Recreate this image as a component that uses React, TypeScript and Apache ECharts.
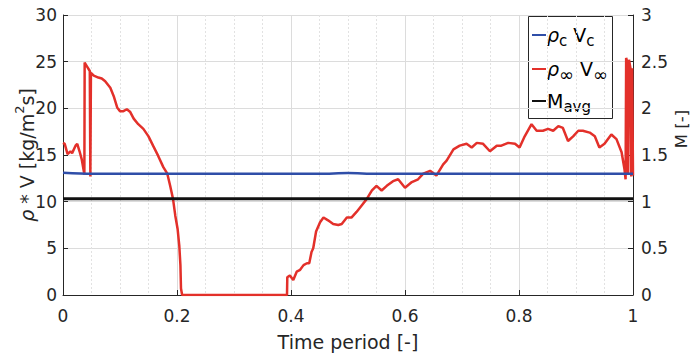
import React, { useEffect, useRef } from "react";
import * as echarts from "echarts";

// Time period values (x) and rho_inf * V_inf values (y) for the red curve
const redT = [
  0, 0.003, 0.008, 0.013, 0.016, 0.022, 0.025, 0.029, 0.033, 0.037, 0.0375,
  0.038, 0.042, 0.047, 0.048, 0.049, 0.054, 0.062, 0.068, 0.074, 0.083, 0.089,
  0.095, 0.1, 0.106, 0.112, 0.118, 0.124, 0.132, 0.141, 0.15, 0.158, 0.167,
  0.176, 0.183, 0.188, 0.193, 0.197, 0.201, 0.204, 0.206, 0.207, 0.209, 0.3,
  0.393, 0.3935, 0.398, 0.404, 0.41, 0.416, 0.422, 0.428, 0.432, 0.436, 0.439,
  0.444, 0.451, 0.457, 0.465, 0.474, 0.483, 0.489, 0.498, 0.506, 0.515, 0.524,
  0.533, 0.542, 0.55, 0.559, 0.568, 0.579, 0.588, 0.6, 0.612, 0.623, 0.632,
  0.644, 0.655, 0.667, 0.673, 0.685, 0.696, 0.708, 0.717, 0.726, 0.737, 0.749,
  0.761, 0.769, 0.781, 0.793, 0.801, 0.81, 0.822, 0.831, 0.842, 0.851, 0.86,
  0.869, 0.877, 0.886, 0.895, 0.904, 0.912, 0.924, 0.933, 0.941, 0.95, 0.962,
  0.971, 0.98, 0.985, 0.987, 0.988, 0.991, 0.9915, 0.993, 0.996, 0.997, 0.9985,
  1.0,
];
const redV = [
  16.3, 16.2, 15.1, 15.4, 15.2, 16.0, 16.2, 15.4, 14.5, 13.1, 12.9,
  24.9, 24.5, 24.0, 12.7, 23.8, 23.5, 23.3, 23.2, 22.9, 22.2, 21.3,
  20.1, 19.7, 19.7, 19.9, 19.6, 18.9, 18.3, 17.8, 17.0, 16.0, 14.9,
  13.7, 13.0, 11.7, 10.3, 8.5, 7.1, 5.3, 3.2, 0.7, 0, 0,
  0, 1.9, 2.1, 1.6, 2.5, 2.7, 3.2, 3.4, 3.4, 4.6, 5.0,
  6.8, 7.8, 8.3, 8.0, 7.6, 7.5, 7.6, 8.3, 8.3, 8.9, 9.6,
  10.3, 11.2, 11.7, 11.2, 11.7, 12.2, 12.4, 11.5, 12.1, 12.4, 13.0,
  13.3, 12.8, 14.0, 14.4, 15.6, 16.0, 16.2, 15.8, 16.3, 16.2, 15.4,
  16.0, 16.0, 16.3, 16.2, 15.8, 17.0, 18.3, 17.6, 17.6, 17.8, 17.6,
  18.1, 17.9, 16.5, 17.0, 17.6, 17.6, 17.4, 17.0, 15.8, 16.2, 17.2,
  16.7, 15.3, 13.5, 12.4, 25.4, 24.7, 12.9, 25.2, 24.1, 12.7, 24.3,
  12.8,
];

// rho_c * V_c (blue)
const blueT = [0, 0.05, 0.45, 0.5, 0.55, 1];
const blueV = [13.1, 12.98, 12.98, 13.08, 12.98, 12.98];

// M_avg (black, right axis)
const mavgT = [0, 1];
const mavgV = [1.03, 1.03];

const FONT = "DejaVu Sans";
const TXT = "#262626";

export default function App() {
  const ref = useRef<HTMLDivElement>(null);
  useEffect(() => {
    if (!ref.current) return;
    const chart = echarts.init(ref.current, undefined, { renderer: "svg" });
    const zip = (a: number[], b: number[]) => a.map((t, i) => [t, b[i]]);
    const legendRich = {
      m: { fontSize: 19, lineHeight: 19, verticalAlign: "top", fontFamily: FONT, color: "#000" },
      g: { fontSize: 19, lineHeight: 19, verticalAlign: "top", fontFamily: FONT, fontStyle: "italic", color: "#000" },
      s: { fontSize: 15, lineHeight: 23, verticalAlign: "bottom", fontFamily: FONT, color: "#000" },
      i: { fontSize: 18, lineHeight: 24, verticalAlign: "bottom", fontFamily: FONT, color: "#000" },
    };
    const legendLine = (y: number, color: string) => ({
      type: "line",
      shape: { x1: 532, y1: y, x2: 546, y2: y },
      style: { stroke: color, lineWidth: 2 },
    });
    const legendText = (y: number, text: string) => ({
      type: "text",
      x: 547,
      y: y - 10,
      style: {
        text,
        verticalAlign: "top",
        align: "left",
        rich: legendRich,
      },
    });
    chart.setOption({
      animation: false,
      textStyle: { fontFamily: FONT, color: TXT },
      grid: { left: 63, right: 61, top: 15, bottom: 59, containLabel: false },
      xAxis: {
        type: "value",
        min: 0,
        max: 1,
        interval: 0.2,
        name: "Time period [-]",
        nameLocation: "middle",
        nameGap: 37,
        nameMoveOverlap: false,
        nameTextStyle: { fontSize: 19, color: TXT, fontFamily: FONT },
        axisLine: { show: true, lineStyle: { color: TXT, width: 1 } },
        axisTick: { show: true, inside: true, length: 5, lineStyle: { color: TXT } },
        axisLabel: { fontSize: 17, color: TXT, margin: 12, fontFamily: FONT },
        splitLine: { show: true, lineStyle: { color: "#dcdcdc", width: 1 } },
        minorTick: { show: false, splitNumber: 4 },
        minorSplitLine: { show: true, lineStyle: { color: "#e2e2e2", type: [2, 2], width: 1 } },
      },
      yAxis: [
        {
          type: "value",
          min: 0,
          max: 30,
          interval: 5,
          position: "left",
          name: "{g|ρ}{n| * V [kg/m}{sup|2}{n|s]}",
          nameLocation: "middle",
          nameRotate: 90,
          nameGap: 27,
          nameMoveOverlap: false,
          nameTextStyle: {
            fontSize: 19,
            color: TXT,
            fontFamily: FONT,
            rich: {
              g: { fontSize: 19, lineHeight: 19, verticalAlign: "bottom", fontStyle: "italic", color: TXT, fontFamily: FONT },
              n: { fontSize: 19, lineHeight: 19, verticalAlign: "bottom", color: TXT, fontFamily: FONT },
              sup: { fontSize: 13, lineHeight: 23, verticalAlign: "top", color: TXT, fontFamily: FONT },
            },
          },
          axisLine: { show: true, lineStyle: { color: TXT, width: 1 } },
          axisTick: { show: true, inside: true, length: 5, lineStyle: { color: TXT } },
          axisLabel: { fontSize: 17, color: TXT, margin: 6, fontFamily: FONT },
          splitLine: { show: true, lineStyle: { color: "#dcdcdc", width: 1 } },
        },
        {
          type: "value",
          min: 0,
          max: 3,
          interval: 0.5,
          position: "right",
          axisLine: { show: true, lineStyle: { color: TXT, width: 1 } },
          axisTick: { show: true, inside: true, length: 5, lineStyle: { color: TXT } },
          axisLabel: { fontSize: 17, color: TXT, margin: 8, fontFamily: FONT },
          splitLine: { show: false },
        },
      ],
      series: [
        {
          name: "rho_inf V_inf",
          type: "line",
          yAxisIndex: 0,
          data: zip(redT, redV),
          showSymbol: false,
          lineStyle: { color: "#e3302a", width: 2.5 },
          z: 2,
        },
        {
          name: "rho_c V_c",
          type: "line",
          yAxisIndex: 0,
          data: zip(blueT, blueV),
          showSymbol: false,
          smooth: 0.3,
          lineStyle: { color: "#2f4ea8", width: 2.5 },
          z: 3,
        },
        {
          name: "M_avg",
          type: "line",
          yAxisIndex: 1,
          data: zip(mavgT, mavgV),
          showSymbol: false,
          lineStyle: { color: "#111111", width: 3 },
          z: 4,
        },
      ],
      graphic: [
        {
          type: "text",
          x: 681,
          y: 129,
          rotation: Math.PI / 2,
          style: {
            text: "M [-]",
            fontSize: 16.5,
            fontFamily: FONT,
            fill: TXT,
            align: "center",
            verticalAlign: "middle",
          },
        },
        {
          type: "group",
          z: 100,
          children: [
            {
              type: "rect",
              shape: { x: 528.5, y: 16.5, width: 84, height: 102 },
              style: { fill: "#ffffff", stroke: "#262626", lineWidth: 1 },
            },
            legendLine(35, "#2f4ea8"),
            legendText(35, "{g|ρ}{s|c}{m| V}{s|c}"),
            legendLine(69, "#e3302a"),
            legendText(69, "{g|ρ}{i|∞}{m| V}{i|∞}"),
            legendLine(101, "#111111"),
            legendText(101, "{m|M}{s|avg}"),
          ],
        },
      ],
    });
    return () => chart.dispose();
  }, []);
  return (
    <div
      ref={ref}
      style={{ position: "fixed", left: 0, top: 0, width: 694, height: 356, background: "#fff" }}
    />
  );
}
